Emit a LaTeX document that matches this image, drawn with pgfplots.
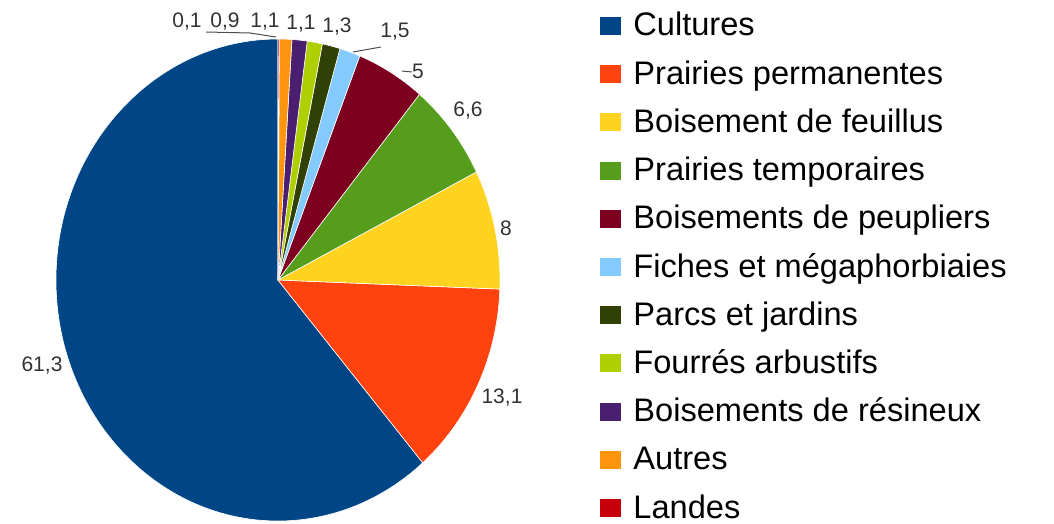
\documentclass[border=0pt]{standalone}
\usepackage{pgfplots}
\usepackage{pgfplotstable}
\pgfplotsset{compat=1.18}
\usepackage{fontspec}
\setmainfont{Liberation Sans}
\definecolor{pie0}{HTML}{004586}
\definecolor{pie1}{HTML}{FF420E}
\definecolor{pie2}{HTML}{FFD320}
\definecolor{pie3}{HTML}{579D1C}
\definecolor{pie4}{HTML}{7E0021}
\definecolor{pie5}{HTML}{83CAFF}
\definecolor{pie6}{HTML}{314004}
\definecolor{pie7}{HTML}{AECF00}
\definecolor{pie8}{HTML}{4B1F6F}
\definecolor{pie9}{HTML}{FF950E}
\definecolor{pie10}{HTML}{C5000B}
\pgfplotstableread[col sep=comma]{
name,value
Cultures,61.3
Prairies permanentes,13.1
Boisement de feuillus,8
Prairies temporaires,6.6
Boisements de peupliers,5
Fiches et mégaphorbiaies,1.5
Parcs et jardins,1.3
Fourrés arbustifs,1.1
Boisements de résineux,1.1
Autres,0.9
Landes,0.1
}\pietable
\begin{document}
\xdef\cumangle{90}%
\pgfplotsforeachungrouped \i in {0,...,10}{%
  \pgfplotstablegetelem{\i}{value}\of\pietable
  \pgfmathsetmacro\tmpend{\cumangle+3.6*\pgfplotsretval}%
  \expandafter\xdef\csname sa\i\endcsname{\cumangle}%
  \expandafter\xdef\csname ea\i\endcsname{\tmpend}%
  \xdef\cumangle{\tmpend}%
  \pgfplotstablegetelem{\i}{name}\of\pietable
  \expandafter\xdef\csname nm\i\endcsname{\pgfplotsretval}%
}%
\begin{tikzpicture}
\begin{axis}[
  scale only axis, width=527pt, height=262pt,
  xmin=0, xmax=1054, ymin=0, ymax=524, y dir=reverse,
  hide axis, clip=false,
]
\path[draw=none] (axis cs:0,0) rectangle (axis cs:1054,524);
\pgfplotsinvokeforeach{0,...,10}{
  \fill[pie#1, draw=white, line width=0.3pt, line join=round]
    (axis cs:278,280) -- ++(\csname sa#1\endcsname:111pt and 120.5pt)
    arc[start angle=\csname sa#1\endcsname, end angle=\csname ea#1\endcsname, x radius=111pt, y radius=120.5pt] -- cycle;
  \fill[pie#1] (axis cs:600,{17+48.2*#1}) rectangle (axis cs:621,{35+48.2*#1});
  \node[anchor=base west, inner sep=0pt, font=\fontsize{16.3}{19}\selectfont, text=black]
    at (axis cs:633,{36+48.2*#1}) {\csname nm#1\endcsname};
}
% value labels
\begin{scope}[every node/.style={font=\fontsize{10.5}{12}\selectfont, text=black!80, inner sep=0pt}]
\node at (axis cs:187,22) {0,1};
\node at (axis cs:225,22) {0,9};
\node at (axis cs:265,22) {1,1};
\node at (axis cs:301,24) {1,1};
\node at (axis cs:337,27) {1,3};
\node at (axis cs:395,32) {1,5};
\node at (axis cs:418,71) {5};
\node at (axis cs:468,111) {6,6};
\node at (axis cs:506,228) {8};
\node at (axis cs:502,398) {13,1};
\node at (axis cs:42,366) {61,3};
\end{scope}
\draw[black!70, line width=0.5pt] (axis cs:206,32) -- (axis cs:250,33) -- (axis cs:276,37);
\draw[black!70, line width=0.5pt] (axis cs:353,52) -- (axis cs:381,47);
\draw[black!70, line width=0.5pt] (axis cs:402,71) -- (axis cs:412,72);
\end{axis}
\end{tikzpicture}
\end{document}
